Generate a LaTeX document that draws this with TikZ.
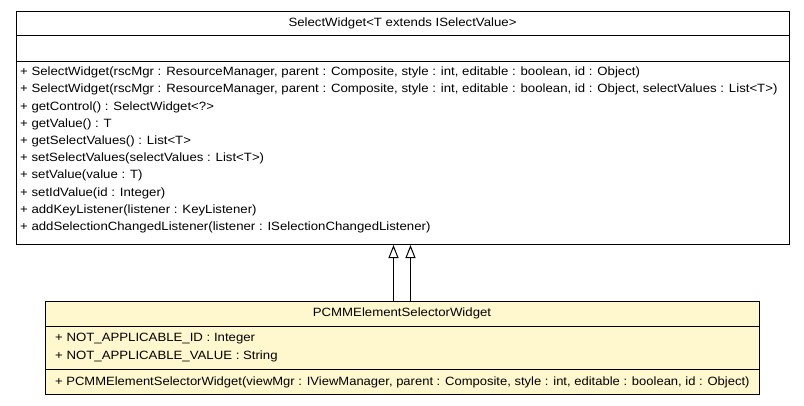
\documentclass[tikz,border=0pt]{standalone}
\usepackage{fontspec}
\usepackage{graphicx}
\setmainfont{Liberation Sans}
\usetikzlibrary{arrows.meta}
\definecolor{subfill}{RGB}{255,248,206}
\newcommand\umltext[2][1.1]{\scalebox{#1}[1]{#2}}
\tikzset{
  umlbox/.style={draw=black, line width=1pt, rectangle, anchor=north west, inner sep=0pt},
  sepline/.style={draw=black, line width=1pt},
  txt/.style={anchor=west, inner sep=0pt, font=\fontsize{12}{14}\selectfont},
  ttl/.style={anchor=center, inner sep=0pt, font=\fontsize{12}{14}\selectfont},
  inh/.style={draw=black, line width=1pt, -{Triangle[open, length=13pt, width=10pt, fill=white]}}
}
\begin{document}
\begin{tikzpicture}[x=1pt,y=-1pt]
\useasboundingbox (0,0) rectangle (804,405);
% super class
\node[umlbox, fill=white, minimum width=773pt, minimum height=233pt] (super) at (16,11) {};
\draw[sepline] (16,35) -- (789,35);
\draw[sepline] (16,61) -- (789,61);
\node[ttl] (supt) at (402.5,23) {\umltext{SelectWidget<T extends ISelectValue>}};
\foreach \t [count=\i from 0] in {
  {+ SelectWidget(rscMgr : ResourceManager, parent : Composite, style : int, editable : boolean, id : Object)},
  {+ SelectWidget(rscMgr : ResourceManager, parent : Composite, style : int, editable : boolean, id : Object, selectValues : List<T>)},
  {+ getControl() : SelectWidget<?>},
  {+ getValue() : T},
  {+ getSelectValues() : List<T>},
  {+ setSelectValues(selectValues : List<T>)},
  {+ setValue(value : T)},
  {+ setIdValue(id : Integer)},
  {+ addKeyListener(listener : KeyListener)},
  {+ addSelectionChangedListener(listener : ISelectionChangedListener)}}
  \node[txt] (m\i) at (20,72.5+\i*17.2) {\umltext{\t}};
% sub class
\node[umlbox, fill=subfill, minimum width=714pt, minimum height=93pt] (sub) at (45,301) {};
\draw[sepline] (45,326) -- (759,326);
\draw[sepline] (45,369) -- (759,369);
\node[ttl] (subt) at (402,313.5) {\umltext{PCMMElementSelectorWidget}};
\node[txt] (a1) at (55,339) {\umltext{+ NOT\_APPLICABLE\_ID : Integer}};
\node[txt] (a2) at (55,356) {\umltext{+ NOT\_APPLICABLE\_VALUE : String}};
\node[txt] (c1) at (55,382) {\umltext[1.084]{+ PCMMElementSelectorWidget(viewMgr : IViewManager, parent : Composite, style : int, editable : boolean, id : Object)}};
% generalizations
\draw[inh] ([xshift=-9pt]sub.north) -- ([xshift=-9pt]sub.north |- super.south);
\draw[inh] ([xshift=8pt]sub.north) -- ([xshift=8pt]sub.north |- super.south);
\end{tikzpicture}
\end{document}
